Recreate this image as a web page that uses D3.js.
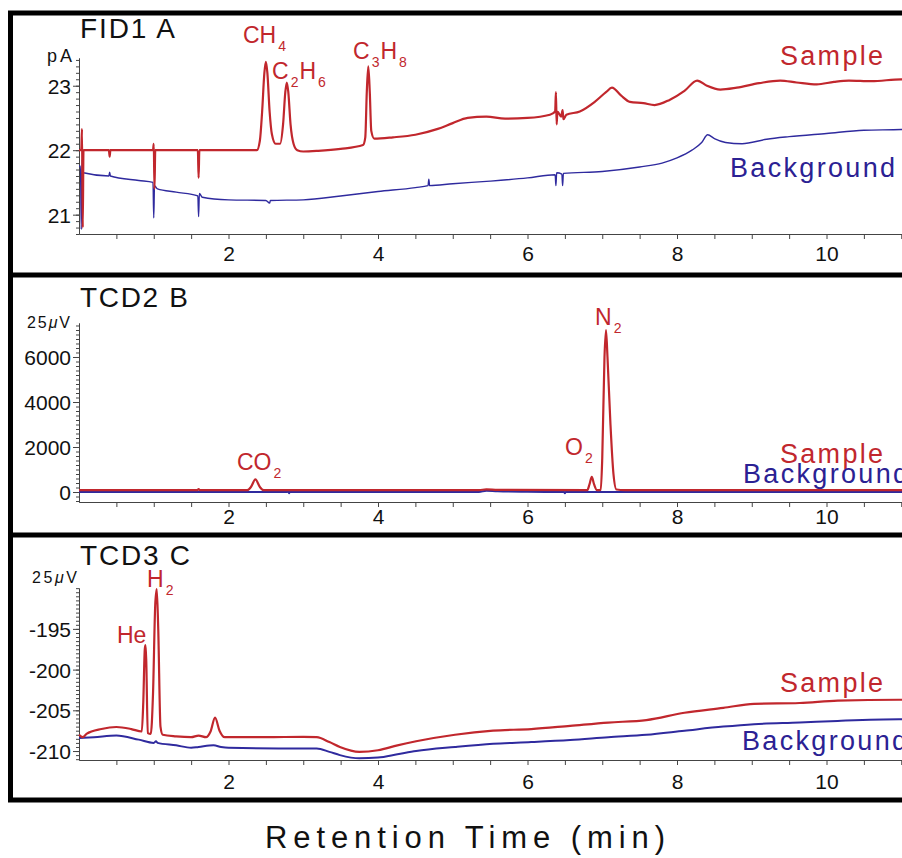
<!DOCTYPE html>
<html lang="en">
<head>
<meta charset="UTF-8">
<title>GC Chromatograms</title>
<script src="https://d3js.org/d3.v7.min.js"></script>
<style>
  body { margin: 0; background: #fff; }
  svg { display: block; font-family: "Liberation Sans", Arial, Helvetica, sans-serif; }
  .axis path, .axis line { stroke: #444; stroke-width: 1; }
  .axis text { font-size: 21px; fill: #111; font-family: "Liberation Sans", Arial, sans-serif; }
</style>
</head>
<body>
<div id="chart"></div>
<script>
// ---- data: [minutes, signal] ----
var fidSample = [[0,22.0],[0.03,22.0],[0.04,22.33],[0.05,20.8],[0.06,22.0],[0.40,22.0],[0.41,21.9],[0.42,22.0],
  [0.99,22.0],[1.00,22.1],[1.01,21.4],[1.02,22.0],[1.59,22.0],[1.60,21.57],[1.61,22.0],[2.38,22.0],[2.42,22.15],
  [2.45,22.6],[2.48,23.2],[2.50,23.37],[2.52,23.2],[2.55,22.6],[2.58,22.25],[2.63,22.1],[2.69,22.1],[2.73,22.4],
  [2.76,22.9],[2.78,23.05],[2.80,22.9],[2.83,22.4],[2.87,22.1],[2.92,22.0],[3.0,21.98],[3.2,21.99],[3.5,22.02],
  [3.8,22.08],[3.83,22.2],[3.85,22.9],[3.87,23.3],[3.89,22.9],[3.91,22.3],[3.95,22.18],[4.2,22.2],[4.5,22.24],
  [4.8,22.33],[5.0,22.42],[5.2,22.5],[5.45,22.52],[5.7,22.49],[6.0,22.5],[6.3,22.55],[6.37,22.6],[6.38,22.9],
  [6.39,22.4],[6.40,22.6],[6.45,22.52],[6.47,22.62],[6.48,22.48],[6.52,22.55],[6.7,22.6],[6.9,22.75],[7.05,22.9],
  [7.13,22.97],[7.25,22.85],[7.37,22.75],[7.55,22.73],[7.7,22.7],[7.9,22.78],[8.1,22.92],[8.27,23.08],[8.4,23.0],
  [8.58,22.94],[8.8,22.97],[9.1,23.04],[9.38,23.08],[9.6,23.05],[9.87,23.02],[10.1,23.06],[10.3,23.08],[10.6,23.07],
  [11.0,23.1],[11.2,23.1]];
var fidBackground = [[0,21.75],[0.02,21.75],[0.03,20.77],[0.04,21.85],[0.06,21.65],[0.4,21.6],[0.41,21.66],[0.42,21.6],
  [0.8,21.53],[0.99,21.5],[1.00,20.95],[1.01,21.45],[1.05,21.4],[1.3,21.35],[1.59,21.29],[1.60,20.97],[1.61,21.33],
  [1.65,21.27],[2.0,21.23],[2.5,21.22],[2.55,21.18],[2.56,21.22],[3.0,21.23],[3.5,21.29],[4.0,21.36],[4.5,21.42],
  [4.67,21.45],[4.68,21.55],[4.69,21.45],[5.0,21.48],[5.5,21.52],[6.0,21.57],[6.37,21.62],[6.38,21.45],[6.39,21.65],
  [6.46,21.63],[6.47,21.45],[6.48,21.64],[7.0,21.67],[7.5,21.74],[7.8,21.8],[8.0,21.88],[8.2,22.0],[8.33,22.12],
  [8.41,22.24],[8.5,22.18],[8.65,22.12],[8.87,22.1],[9.2,22.17],[9.5,22.21],[10.0,22.26],[10.5,22.31],[11.0,22.32],
  [11.2,22.33]];
var tcd2Sample = [[0,80],[1.58,80],[1.6,130],[1.62,80],[2.25,80],[2.3,220],[2.36,560],[2.42,220],[2.47,80],
  [5.35,80],[5.45,120],[5.6,95],[6.8,85],[6.83,350],[6.86,670],[6.89,350],[6.93,80],[6.98,90],[7.0,1500],
  [7.03,6000],[7.05,7200],[7.07,6000],[7.11,3000],[7.15,800],[7.19,110],[7.3,80],[11.2,80]];
var tcd2Background = [[0,0],[2.79,0],[2.8,90],[2.81,-60],[2.82,0],[5.35,0],[5.45,60],[5.6,30],[6.0,10],
  [6.49,0],[6.5,-60],[6.51,0],[11.2,0]];
var tcd3Sample = [[0,-208.0],[0.05,-208.3],[0.1,-207.9],[0.3,-207.3],[0.5,-207.05],[0.7,-207.3],[0.84,-207.6],
  [0.86,-204],[0.88,-197.5],[0.89,-197.0],[0.90,-199],[0.92,-207.8],[0.96,-207.9],[0.99,-203],[1.02,-192],
  [1.04,-190.1],[1.06,-195],[1.09,-207],[1.12,-208.0],[1.3,-208.2],[1.5,-208.3],[1.6,-208.1],[1.7,-208.3],
  [1.76,-207.6],[1.82,-205.9],[1.88,-207.5],[1.95,-208.3],[2.5,-208.3],[3.0,-208.25],[3.18,-208.3],[3.35,-208.9],
  [3.49,-209.5],[3.75,-210.1],[4.0,-209.9],[4.26,-209.3],[4.51,-208.8],[5.03,-208.0],[5.54,-207.5],[6.05,-207.3],
  [6.57,-206.9],[7.08,-206.5],[7.59,-206.2],[8.1,-205.3],[8.62,-204.7],[9.03,-204.2],[9.64,-204.1],[10.15,-203.8],
  [10.97,-203.7],[11.2,-203.7]];
var tcd3Background = [[0,-208.4],[0.2,-208.3],[0.5,-208.1],[0.8,-208.6],[1.0,-209.0],[1.03,-208.8],[1.05,-209.0],
  [1.3,-209.3],[1.5,-209.6],[1.6,-209.5],[1.8,-209.3],[1.9,-209.5],[2.0,-209.6],[3.0,-209.7],[3.18,-209.7],
  [3.35,-210.1],[3.49,-210.5],[3.75,-210.9],[4.0,-210.8],[4.26,-210.4],[4.51,-210.0],[5.03,-209.5],[5.54,-209.1],
  [6.05,-208.9],[6.57,-208.65],[7.08,-208.3],[7.59,-208.0],[8.1,-207.5],[8.62,-207.0],[9.03,-206.7],[9.64,-206.5],
  [10.15,-206.3],[10.97,-206.1],[11.2,-206.1]];

var fidTicks = [21, 22, 23];
var tcd2Ticks = [0, 2000, 4000, 6000];
var tcd3Ticks = [-210, -205, -200, -195];
var xTickLabels = [2, 4, 6, 8, 10];

var RED = "#c1272d", BLUE = "#2f2a9e", BLUE_TXT = "#2b2193";

var W = 902, H = 858;
var svg = d3.select("#chart").append("svg").attr("width", W).attr("height", H);

var x = d3.scaleLinear().domain([0, 11.2]).range([79, 79 + 11.2 * 74.75]);

var panels = [
  { title: "FID1 A", unit: "pA", unitX: 72, unitY: 62, unitLen: 25, titleY: 38, titleLen: 95,
    top: 58, bottom: 234, domain: [20.7, 23.43], ticks: fidTicks, minorStep: 0.1,
    sample: fidSample, background: fidBackground, bgWidth: 1.4, xLabelY: 261,
    sampleY: 65, bgX: 730, bgY: 177,
    peaks: [ { parts: [["CH", ""], ["4", "sub"]], x: 243, y: 43 },
             { parts: [["C", ""], ["2", "sub"], ["H", ""], ["6", "sub"]], x: 272, y: 79 },
             { parts: [["C", ""], ["3", "sub"], ["H", ""], ["8", "sub"]], x: 353, y: 59 } ] },
  { title: "TCD2 B", unit: "25\u03BCV", unitX: 70, unitY: 328, unitLen: 43, titleY: 307, titleLen: 108,
    top: 323, bottom: 502, domain: [-444, 7511], ticks: tcd2Ticks, minorStep: 200,
    sample: tcd2Sample, background: tcd2Background, bgWidth: 2, xLabelY: 524,
    sampleY: 463, bgX: 743, bgY: 483,
    peaks: [ { parts: [["CO", ""], ["2", "sub"]], x: 237, y: 470 },
             { parts: [["O", ""], ["2", "sub"]], x: 565, y: 455 },
             { parts: [["N", ""], ["2", "sub"]], x: 595, y: 325 } ] },
  { title: "TCD3 C", unit: "25\u03BCV", unitX: 77, unitY: 583, unitLen: 45, titleY: 565, titleLen: 110,
    top: 588, bottom: 760, domain: [-211.1, -189.98], ticks: tcd3Ticks, minorStep: 0.5,
    sample: tcd3Sample, background: tcd3Background, bgWidth: 2, xLabelY: 789,
    sampleY: 692, bgX: 742, bgY: 750,
    peaks: [ { parts: [["He", ""]], x: 117, y: 643 },
             { parts: [["H", ""], ["2", "sub"]], x: 147, y: 587 } ] }
];

panels.forEach(function(p) {
  var y = d3.scaleLinear().domain(p.domain).range([p.bottom, p.top]);
  var g = svg.append("g");

  // minor y ticks
  var minor = d3.range(Math.ceil(p.domain[0] / p.minorStep), Math.floor(p.domain[1] / p.minorStep) + 1)
    .map(function(k) { return +(k * p.minorStep).toFixed(4); });
  g.append("g").attr("class", "axis").attr("transform", "translate(" + x(0) + ",0)")
    .call(d3.axisLeft(y).tickValues(minor).tickSize(3).tickSizeOuter(0).tickFormat(""));
  g.append("g").attr("class", "axis").attr("transform", "translate(" + x(0) + ",0)")
    .call(d3.axisLeft(y).tickValues(p.ticks).tickSize(6).tickSizeOuter(0).tickPadding(2)
      .tickFormat(function(d) { return String(d); }))
    .call(function(a) { a.selectAll("text").attr("dy", "0.36em"); });

  // x axis
  var xa = g.append("g").attr("class", "axis").attr("transform", "translate(0," + p.bottom + ")")
    .call(d3.axisBottom(x).tickValues(d3.range(0.5, 11.5, 0.5)).tickSize(5).tickSizeOuter(0)
      .tickFormat(function(d) { return xTickLabels.indexOf(d) >= 0 ? d : ""; }));
  xa.selectAll("text").attr("y", null).attr("dy", null)
    .attr("transform", "translate(0," + (p.xLabelY - p.bottom) + ")");

  var line = d3.line().curve(d3.curveMonotoneX)
    .x(function(d) { return x(d[0]); }).y(function(d) { return y(d[1]); });

  g.append("path").datum(p.background).attr("d", line)
    .attr("fill", "none").attr("stroke", BLUE).attr("stroke-width", p.bgWidth);
  g.append("path").datum(p.sample).attr("d", line)
    .attr("fill", "none").attr("stroke", RED).attr("stroke-width", 2.2);

  // panel title and unit
  g.append("text").attr("x", 80).attr("y", p.titleY).attr("font-size", 28)
    .attr("textLength", p.titleLen).attr("lengthAdjust", "spacing").attr("fill", "#111").text(p.title);
  var u = g.append("text").attr("x", p.unitX - p.unitLen).attr("y", p.unitY).attr("font-size", 16)
    .attr("textLength", p.unitLen).attr("lengthAdjust", "spacing").attr("fill", "#111");
  if (p.unit === "pA") { u.attr("font-size", 18).text("pA"); }
  else {
    u.append("tspan").text("25");
    u.append("tspan").attr("font-style", "italic").text("\u03BC");
    u.append("tspan").text("V");
  }

  // legend-like labels
  g.append("text").attr("x", 780).attr("y", p.sampleY).attr("font-size", 27).attr("fill", RED)
    .attr("textLength", 103).attr("lengthAdjust", "spacing").text("Sample");
  g.append("text").attr("x", p.bgX).attr("y", p.bgY).attr("font-size", 27).attr("fill", BLUE_TXT)
    .attr("textLength", 165).attr("lengthAdjust", "spacing").text("Background");

  // peak labels
  p.peaks.forEach(function(pk) {
    var t = g.append("text").attr("x", pk.x).attr("y", pk.y).attr("fill", RED).attr("font-size", 23);
    var sub = false;
    pk.parts.forEach(function(part) {
      var ts = t.append("tspan").text(part[0]);
      if (part[1] === "sub") { ts.attr("font-size", 14).attr("dy", 8).attr("dx", 2); sub = true; }
      else if (sub) { ts.attr("dy", -8).attr("dx", 1); sub = false; }
    });
  });
});

// frame with dividers
svg.append("rect").attr("x", 10.5).attr("y", 13).attr("width", 1000).attr("height", 787)
  .attr("fill", "none").attr("stroke", "#000").attr("stroke-width", 5);
[275, 535].forEach(function(yy) {
  svg.append("line").attr("x1", 10).attr("x2", W).attr("y1", yy).attr("y2", yy)
    .attr("stroke", "#000").attr("stroke-width", 5);
});

svg.append("text").attr("x", 265).attr("y", 848).attr("font-size", 31).attr("fill", "#111")
  .attr("textLength", 400).attr("lengthAdjust", "spacing").text("Retention Time (min)");
</script>
</body>
</html>
